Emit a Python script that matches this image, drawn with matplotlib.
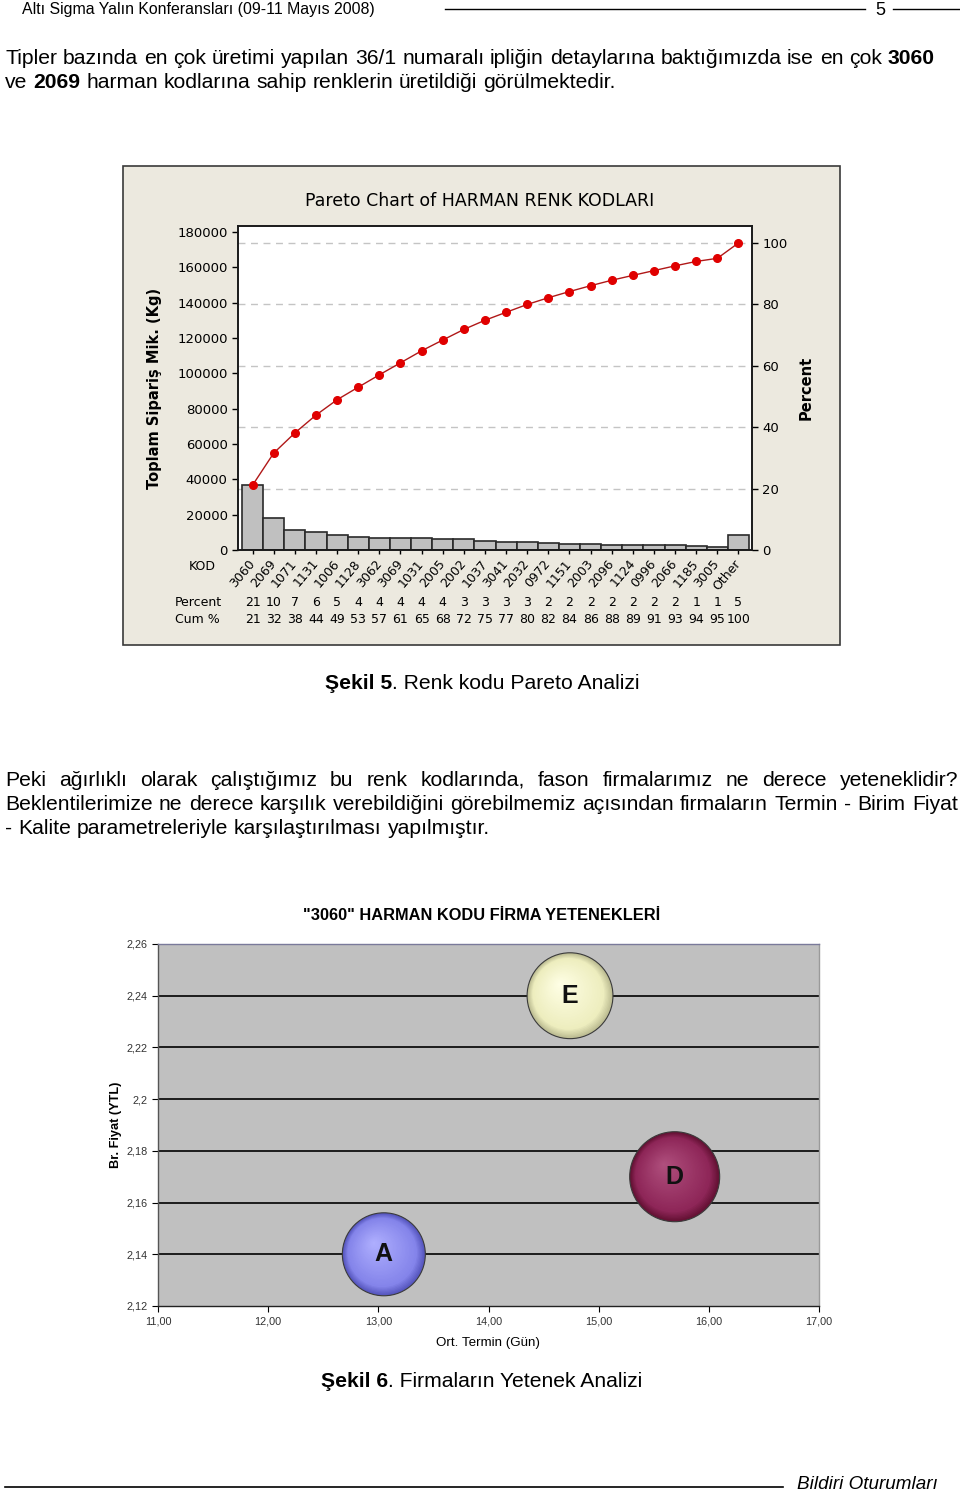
import numpy as np
import matplotlib.pyplot as plt
import matplotlib.colors as mcolors
from matplotlib import transforms
from matplotlib.patches import Rectangle, Ellipse
from matplotlib.ticker import FuncFormatter, MultipleLocator

# --- sayfa boyutu (piksel) ---
W, H = 960, 1495

# --- Şekil 5: Pareto verisi ---
kod = ['3060', '2069', '1071', '1131', '1006', '1128', '3062', '3069', '1031', '2005',
       '2002', '1037', '3041', '2032', '0972', '1151', '2003', '2096', '1124', '0996',
       '2066', '1185', '3005', 'Other']
siparis_kg = [36700, 18150, 11400, 10100, 8700, 7100, 7000, 6800, 6800, 6100,
              6000, 5200, 4500, 4450, 3800, 3500, 3300, 3100, 2750, 2700,
              2700, 2500, 1750, 8700]
percent_row = ['21', '10', '7', '6', '5', '4', '4', '4', '4', '4', '3', '3', '3', '3',
               '2', '2', '2', '2', '2', '2', '2', '1', '1', '5']
cum_row = ['21', '32', '38', '44', '49', '53', '57', '61', '65', '68', '72', '75', '77',
           '80', '82', '84', '86', '88', '89', '91', '93', '94', '95', '100']

# --- Şekil 6: firma yetenekleri ---
firma = ['A', 'E', 'D']
termin = [13.05, 14.74, 15.69]      # Ort. Termin (Gün)
fiyat = [2.14, 2.24, 2.17]          # Br. Fiyat (YTL)
kalite = [85, 91, 100]              # kabarcık büyüklüğü

PAGE_FONT = 'Liberation Sans'
CHART_FONT = 'DejaVu Sans'


def fx(px):
    return px / W


def fy(py):
    return 1 - py / H


fig = plt.figure(figsize=(W / 100, H / 100), dpi=100)
fig.patch.set_facecolor('white')
renderer = fig.canvas.get_renderer()


def text_w(s, size, bold=False, style='normal'):
    t = fig.text(0, 0, s, fontsize=size, family=PAGE_FONT, style=style,
                 weight='bold' if bold else 'normal')
    w = t.get_window_extent(renderer).width
    t.remove()
    return w


def draw_runs(runs, x, y, size, align='left', width=None, style='normal'):
    """runs: (metin, kalın mı, önünde boşluk var mı)"""
    widths = [text_w(r[0], size, r[1], style) for r in runs]
    sp = text_w('a a', size) - text_w('aa', size)
    ngaps = sum(1 for r in runs if r[2])
    if width is not None and ngaps:
        sp = (width - sum(widths)) / ngaps
    total = sum(widths) + sp * ngaps
    if align == 'center':
        x = x - total / 2
    cur = x
    for (s, b, g), w in zip(runs, widths):
        if g:
            cur += sp
        fig.text(fx(cur), fy(y), s, fontsize=size, family=PAGE_FONT, style=style,
                 weight='bold' if b else 'normal', ha='left', va='baseline')
        cur += w


def words(s, bold=False, first_gap=False):
    ws = s.split(' ')
    return [(w, bold, (i > 0) or first_gap) for i, w in enumerate(ws)]


# --- üst bilgi ---
fig.text(fx(22), fy(14), 'Altı Sigma Yalın Konferansları (09-11 Mayıs 2008)',
         fontsize=11.4, family=PAGE_FONT, va='baseline')
fig.add_artist(plt.Line2D([fx(445), fx(865)], [fy(9), fy(9)], color='black', lw=1))
fig.text(fx(880), fy(15), '5', fontsize=13, family=PAGE_FONT, va='baseline', ha='center')
fig.add_artist(plt.Line2D([fx(893), fx(960)], [fy(9), fy(9)], color='black', lw=1))

# --- paragraf 1 ---
P = 15.2
draw_runs(words('Tipler bazında en çok üretimi yapılan 36/1 numaralı ipliğin detaylarına '
                'baktığımızda ise en çok') + [('3060', True, True)], 5, 64, P)
draw_runs([('ve', False, False), ('2069', True, True)] +
          words('harman kodlarına sahip renklerin üretildiği görülmektedir.', first_gap=True),
          5, 88, P)

# --- Şekil 5: Pareto ---
fig.add_artist(Rectangle((fx(123), fy(645)), fx(840) - fx(123), fy(166) - fy(645),
                         transform=fig.transFigure, facecolor='#ECE9DF',
                         edgecolor='#3A3A3A', lw=1.2, zorder=-1))

total = sum(siparis_kg)
x = np.arange(len(kod))
ax = fig.add_axes([fx(238), fy(550), fx(752) - fx(238), fy(226) - fy(550)])
ax.set_facecolor('white')
ax.bar(x, siparis_kg, width=1.0, color='#C0C0C0', edgecolor='#2A2A2A', lw=1.2, zorder=2)
for p in [20, 40, 60, 80, 100]:
    ax.axhline(total * p / 100, color='#C4C4C4', lw=1, dashes=(5, 4), zorder=1)
ax.set_xlim(-0.69, 23.64)
ytop = 183400
ax.set_ylim(0, ytop)
ax.set_yticks(np.arange(0, 180001, 20000))
ax.yaxis.set_major_formatter(FuncFormatter(lambda v, _: f'{int(v)}'))
ax.set_xticks(x)
ax.set_xticklabels(kod, rotation=50, ha='right', va='center', rotation_mode='anchor',
                   fontsize=9, family=CHART_FONT)
ax.tick_params(axis='x', direction='out', length=3, pad=5, width=1)
ax.tick_params(axis='y', direction='out', length=4, labelsize=9.5, width=1)
for s in ax.spines.values():
    s.set_color('#1A1A1A')
    s.set_linewidth(1.2)
ax.set_ylabel('Toplam Sipariş Mik. (Kg)', fontsize=10.5, weight='bold', family=CHART_FONT)
ax.yaxis.set_label_coords((162 - 238) / 514, 0.5)

ax2 = ax.twinx()
cum = np.cumsum(siparis_kg) / total * 100
ax2.plot(x, cum, color='#B01818', lw=1, marker='o', ms=5.5,
         mfc='#E00000', mec='#E00000', zorder=3)
ax2.set_ylim(0, ytop / total * 100)
ax2.set_yticks([0, 20, 40, 60, 80, 100])
ax2.tick_params(axis='y', direction='out', length=4, labelsize=9.5, width=1)
for s in ax2.spines.values():
    s.set_color('#1A1A1A')
    s.set_linewidth(1.2)
ax2.set_ylabel('Percent', fontsize=10.5, weight='bold', family=CHART_FONT)
ax2.yaxis.set_label_coords((799 - 238) / 514, 0.5)

fig.text(fx(480), fy(201), 'Pareto Chart of HARMAN RENK KODLARI', fontsize=12.5,
         family=CHART_FONT, ha='center', va='center')

blend = transforms.blended_transform_factory(ax.transData, fig.transFigure)
fig.text(fx(202), fy(566), 'KOD', fontsize=9, family=CHART_FONT, ha='center', va='center')
fig.text(fx(198), fy(602), 'Percent', fontsize=9, family=CHART_FONT, ha='center', va='center')
fig.text(fx(197), fy(620), 'Cum %', fontsize=9, family=CHART_FONT, ha='center', va='center')
for xi, pr, cr in zip(x, percent_row, cum_row):
    ax.text(xi, fy(602), pr, transform=blend, fontsize=9, family=CHART_FONT,
            ha='center', va='center')
    ax.text(xi, fy(620), cr, transform=blend, fontsize=9, family=CHART_FONT,
            ha='center', va='center')

# --- başlık 5 ---
draw_runs([('Şekil 5', True, False), ('. Renk kodu Pareto Analizi', False, False)], 482, 689, P,
          align='center')

# --- paragraf 2 ---
draw_runs(words('Peki ağırlıklı olarak çalıştığımız bu renk kodlarında, fason firmalarımız ne '
                'derece yeteneklidir?'), 5, 786, P, width=953)
draw_runs(words('Beklentilerimize ne derece karşılık verebildiğini görebilmemiz açısından '
                'firmaların Termin - Birim Fiyat'), 5, 810, P, width=953)
draw_runs(words('- Kalite parametreleriyle karşılaştırılması yapılmıştır.'), 5, 834, P)

# --- Şekil 6: kabarcık grafiği ---
bx = fig.add_axes([fx(158), fy(1306), fx(819) - fx(158), fy(944) - fy(1306)])
bx.set_facecolor('#C0C0C0')
bx.set_xlim(11, 17)
bx.set_ylim(2.12, 2.26)
bx.yaxis.set_major_locator(MultipleLocator(0.02))
bx.xaxis.set_major_locator(MultipleLocator(1))
bx.yaxis.set_major_formatter(FuncFormatter(lambda v, _: f'{round(v, 2):g}'.replace('.', ',')))
bx.xaxis.set_major_formatter(FuncFormatter(lambda v, _: f'{v:.2f}'.replace('.', ',')))
bx.tick_params(direction='out', length=4, labelsize=7.8, labelcolor='#333333', width=0.8)
for lab in bx.get_xticklabels() + bx.get_yticklabels():
    lab.set_family(PAGE_FONT)
for yv in np.arange(2.14, 2.25, 0.02):
    bx.axhline(yv, color='black', lw=1.2, zorder=1)
bx.spines['left'].set_color('#555555')
bx.spines['bottom'].set_color('#222222')
bx.spines['top'].set_color('#7A7A9A')
bx.spines['right'].set_color('#9A9A9A')
for s in bx.spines.values():
    s.set_linewidth(1)
bx.set_ylabel('Br. Fiyat (YTL)', fontsize=9.2, weight='bold', family=PAGE_FONT)
bx.yaxis.set_label_coords((122 - 158) / 661, 0.5)
bx.set_xlabel('Ort. Termin (Gün)', fontsize=9.6, family=PAGE_FONT)
bx.xaxis.set_label_coords((488 - 158) / 661, -(1337 - 1306) / 362)
fig.text(fx(482), fy(916), '"3060" HARMAN KODU FİRMA YETENEKLERİ', fontsize=11.8,
         weight='bold', family=PAGE_FONT, ha='center', va='center')

px_x = 661 / 6.0
px_y = 362 / 0.14
bubble_colors = {
    'A': ('#5858C0', '#8484EA', '#B0B0FF'),
    'E': ('#BEBE94', '#EDEDBE', '#FFFFE6'),
    'D': ('#661235', '#8E2658', '#B0507E'),
}


def mix(c1, c2, t):
    a = np.array(mcolors.to_rgb(c1))
    b = np.array(mcolors.to_rgb(c2))
    return tuple(a + (b - a) * t)


for name, xv, yv, k in zip(firma, termin, fiyat, kalite):
    dark, base, hi = bubble_colors[name]
    r = 45 * np.sqrt(k / 100)   # piksel
    bx.add_patch(Ellipse((xv, yv), 2 * r / px_x, 2 * r / px_y, facecolor=dark,
                         edgecolor='#3A3A3A', lw=0.8, zorder=3))
    n = 40
    for j in range(1, n):
        t = j / n
        rr = r * (1 - t) * 0.985
        ox = -0.25 * r * t
        oy = 0.28 * r * t
        c = mix(dark, base, t / 0.15) if t < 0.15 else mix(base, hi, (t - 0.15) / 0.85)
        bx.add_patch(Ellipse((xv + ox / px_x, yv + oy / px_y), 2 * rr / px_x, 2 * rr / px_y,
                             facecolor=c, edgecolor='none', zorder=3 + t))
    bx.text(xv, yv, name, fontsize=18, weight='bold', family=PAGE_FONT, color='#111111',
            ha='center', va='center', zorder=6)

# --- başlık 6 ---
draw_runs([('Şekil 6', True, False), ('. Firmaların Yetenek Analizi', False, False)], 482, 1387,
          P, align='center')

# --- alt bilgi ---
fig.add_artist(plt.Line2D([fx(5), fx(783)], [fy(1487), fy(1487)], color='black', lw=1.2))
draw_runs([('Bildiri Oturumları', False, False)], 797, 1489, 13.6, style='italic')

fig.savefig('out.png', dpi=100)
